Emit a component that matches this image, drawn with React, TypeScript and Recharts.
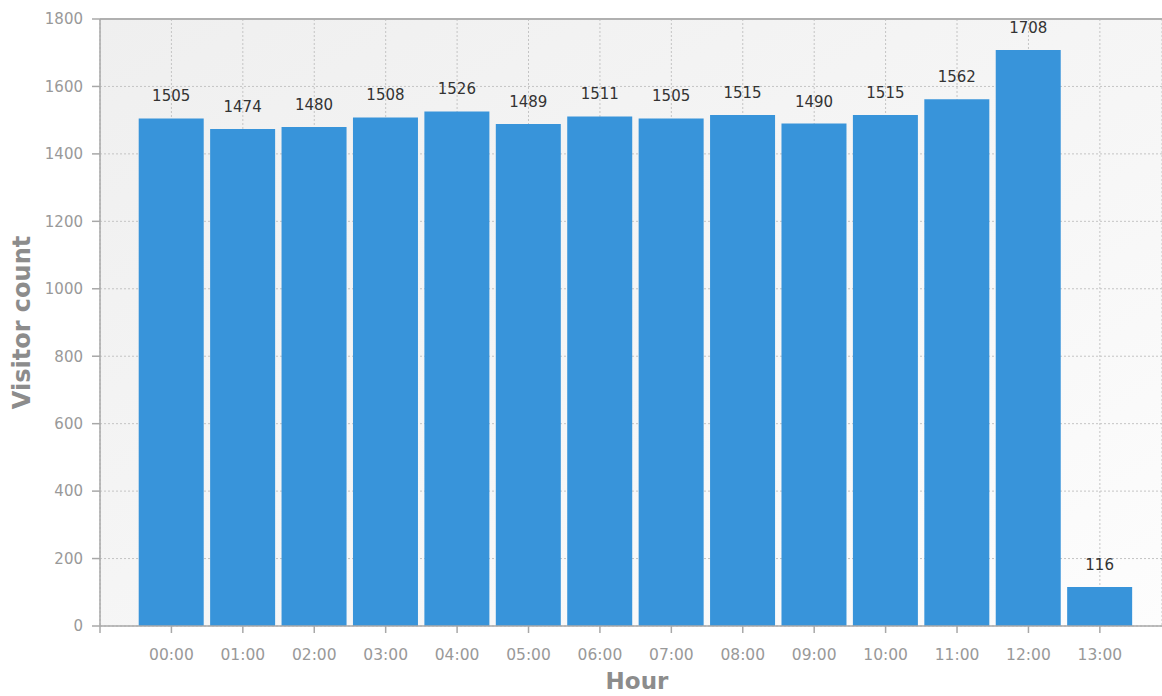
import React from "react";
import { BarChart, Bar, XAxis, YAxis, CartesianGrid, LabelList, Label, ReferenceLine } from "recharts";

const hours = ["00:00", "01:00", "02:00", "03:00", "04:00", "05:00", "06:00", "07:00", "08:00", "09:00", "10:00", "11:00", "12:00", "13:00"];
const visitors = [1505, 1474, 1480, 1508, 1526, 1489, 1511, 1505, 1515, 1490, 1515, 1562, 1708, 116];
const yTicks = [0, 200, 400, 600, 800, 1000, 1200, 1400, 1600, 1800];
const xTicks = [-1, 0, 1, 2, 3, 4, 5, 6, 7, 8, 9, 10, 11, 12, 13];

const data = hours.map((h, i) => ({ x: i, hour: h, count: visitors[i] }));

const FONT = "'DejaVu Sans', Verdana, sans-serif";

export default function App() {
  return (
    <div style={{ position: "absolute", left: 0, top: 0, background: "#fff" }}>
      <BarChart width={1162} height={696} data={data} margin={{ top: 19, right: 0, bottom: 0, left: 0 }}>
        <defs>
          <linearGradient id="bgGrad" x1="0" y1="0" x2="1" y2="1">
            <stop offset="0%" stopColor="#efefef" />
            <stop offset="55%" stopColor="#f6f6f6" />
            <stop offset="100%" stopColor="#fdfdfd" />
          </linearGradient>
        </defs>
        <CartesianGrid stroke="#c4c4c4" strokeDasharray="2 2" fill="url(#bgGrad)" fillOpacity={1} />
        <XAxis
          type="number"
          dataKey="x"
          domain={[-1, 13.87]}
          ticks={xTicks}
          interval={0}
          allowDataOverflow
          tickFormatter={(v: number) => (v >= 0 ? hours[v] : "")}
          height={70}
          tickSize={7}
          tickMargin={16}
          axisLine={{ stroke: "#a8a8a8", strokeWidth: 1.5 }}
          tickLine={{ stroke: "#a8a8a8", strokeWidth: 1.5 }}
          tick={{ fill: "#999999", fontSize: 15.5, fontFamily: FONT }}
        >
          <Label
            content={(props: any) => {
              const vb = props.viewBox || {};
              return (
                <text
                  x={vb.x + vb.width / 2 + 6}
                  y={689}
                  textAnchor="middle"
                  fill="#8c8c8c"
                  fontSize={23}
                  fontWeight="bold"
                  fontFamily={FONT}
                >
                  Hour
                </text>
              );
            }}
          />
        </XAxis>
        <YAxis
          type="number"
          domain={[0, 1800]}
          ticks={yTicks}
          interval={0}
          width={100}
          tickSize={8}
          tickMargin={9}
          axisLine={{ stroke: "#a8a8a8", strokeWidth: 1.5 }}
          tickLine={{ stroke: "#a8a8a8", strokeWidth: 1.5 }}
          tick={{ fill: "#999999", fontSize: 15, fontFamily: FONT }}
        >
          <Label
            content={(props: any) => {
              const vb = props.viewBox || {};
              const cx = vb.x + 22;
              const cy = vb.y + vb.height / 2;
              return (
                <text
                  x={cx}
                  y={cy}
                  transform={`rotate(-90 ${cx} ${cy})`}
                  textAnchor="middle"
                  dominantBaseline="central"
                  fill="#8c8c8c"
                  fontSize={24}
                  fontWeight="bold"
                  fontFamily={FONT}
                >
                  Visitor count
                </text>
              );
            }}
          />
        </YAxis>
        <ReferenceLine y={1800} stroke="#b0b0b0" strokeWidth={2} />
        <Bar dataKey="count" fill="#3894da" barSize={65} isAnimationActive={false}>
          <LabelList dataKey="count" position="top" offset={17} fill="#333333" fontSize={15} fontFamily={FONT} />
        </Bar>
      </BarChart>
    </div>
  );
}
